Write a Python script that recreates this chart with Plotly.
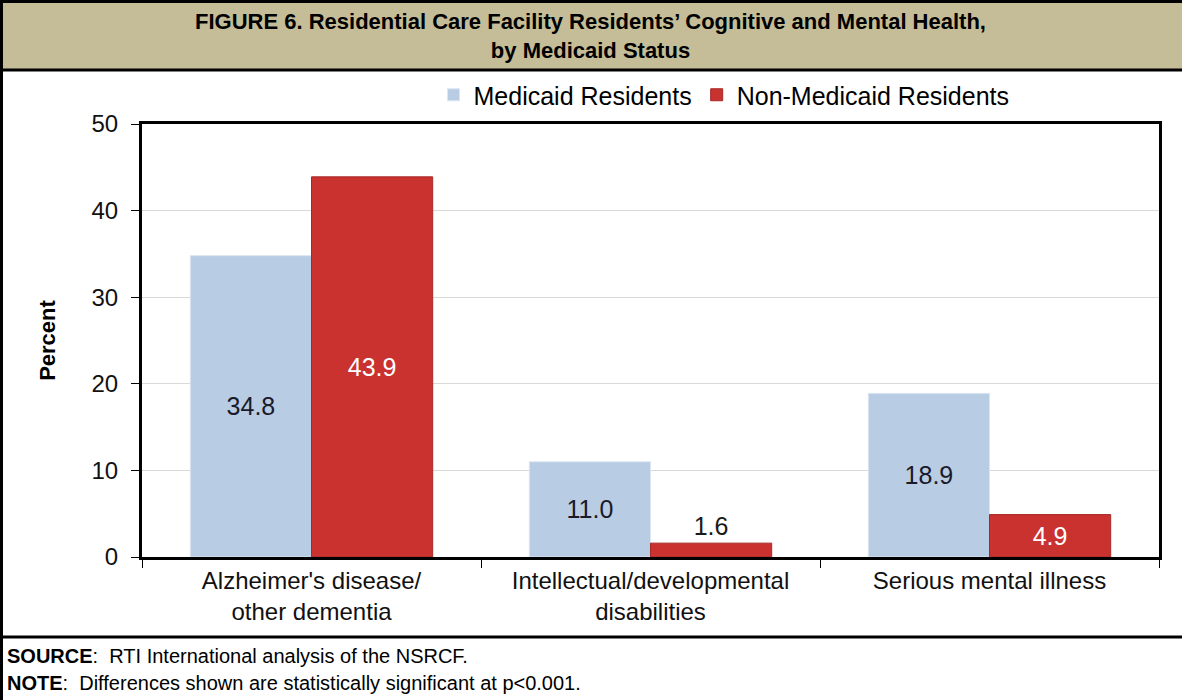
import plotly.graph_objects as go

categories = ["Alzheimer's disease/<br>other dementia",
              "Intellectual/developmental<br>disabilities",
              "Serious mental illness"]
medicaid = [34.8, 11.0, 18.9]
non_medicaid = [43.9, 1.6, 4.9]
series_names = ["Medicaid Residents", "Non-Medicaid Residents"]
y_ticks = [0, 10, 20, 30, 40, 50]

W, H = 1182, 700
L, R, T, B = 142, 1159, 124, 557

def px(x):
    return (x - L) / (R - L)

def py(y):
    return (B - y) / (B - T)

FONT = "Liberation Sans, Arial, sans-serif"

fig = go.Figure()
fig.add_trace(go.Bar(
    x=categories, y=medicaid, name=series_names[0],
    marker=dict(color="#B8CCE4", line=dict(color="#DCE6F2", width=1)),
    text=[f"{v:.1f}" for v in medicaid], textposition="inside",
    insidetextanchor="middle", textangle=0,
    textfont=dict(color="#1A1A2A", size=25, family=FONT),
))
fig.add_trace(go.Bar(
    x=categories, y=non_medicaid, name=series_names[1],
    marker=dict(color="#C9322F", line=dict(color="#A52A27", width=1)),
    text=[f"{v:.1f}" for v in non_medicaid],
    textposition=["inside", "outside", "inside"],
    insidetextanchor="middle", textangle=0,
    textfont=dict(color=["white", "#1A1A1A", "white"], size=25, family=FONT),
    cliponaxis=False,
))

shapes = [
    dict(type="rect", xref="paper", yref="paper", x0=px(0), x1=px(W),
         y0=py(70), y1=py(0), fillcolor="#C4BD97", line=dict(width=0), layer="below"),
    dict(type="line", xref="paper", yref="paper", x0=px(0), x1=px(W),
         y0=py(1.5), y1=py(1.5), line=dict(color="black", width=3)),
    dict(type="line", xref="paper", yref="paper", x0=px(0), x1=px(W),
         y0=py(70), y1=py(70), line=dict(color="black", width=3)),
    dict(type="line", xref="paper", yref="paper", x0=px(0), x1=px(W),
         y0=py(637), y1=py(637), line=dict(color="black", width=3)),
    dict(type="line", xref="paper", yref="paper", x0=px(1.5), x1=px(1.5),
         y0=py(0), y1=py(H), line=dict(color="black", width=3)),
]

annotations = [
    dict(text="<b>FIGURE 6. Residential Care Facility Residents’ Cognitive and Mental Health,<br>by Medicaid Status</b>",
         xref="paper", yref="paper", x=px(590), y=py(36), xanchor="center", yanchor="middle",
         showarrow=False, font=dict(size=22, family=FONT, color="black"), align="center"),
    dict(text="<b>SOURCE</b>:  RTI International analysis of the NSRCF.",
         xref="paper", yref="paper", x=px(5), y=py(656), xanchor="left", yanchor="middle",
         showarrow=False, font=dict(size=20, family=FONT, color="black")),
    dict(text="<b>NOTE</b>:  Differences shown are statistically significant at p<0.001.",
         xref="paper", yref="paper", x=px(5), y=py(683), xanchor="left", yanchor="middle",
         showarrow=False, font=dict(size=20, family=FONT, color="black")),
]

fig.update_layout(
    width=W, height=H,
    margin=dict(l=L, r=W - R, t=T, b=H - B),
    paper_bgcolor="white", plot_bgcolor="white",
    barmode="group", bargap=0.285, bargroupgap=0,
    font=dict(family=FONT, size=20, color="black"),
    legend=dict(orientation="h", x=px(724), y=py(95), xanchor="center", yanchor="middle",
                font=dict(size=25, family=FONT, color="black"),
                itemwidth=30, tracegroupgap=0),
    shapes=shapes, annotations=annotations,
    showlegend=True,
)
fig.update_xaxes(
    showline=True, linecolor="black", linewidth=3, mirror=True,
    ticks="outside", tickson="boundaries", ticklen=8, tickcolor="black", tickwidth=1,
    tickfont=dict(size=24, family=FONT, color="#111111"),
)
fig.update_yaxes(
    range=[0, 50], tickvals=y_ticks,
    showline=True, linecolor="black", linewidth=3, mirror=True,
    ticks="outside", ticklen=8, tickcolor="black", tickwidth=1,
    ticklabelstandoff=8,
    showgrid=True, gridcolor="#D9D9D9", gridwidth=1,
    tickfont=dict(size=24, family=FONT, color="#111111"),
    title=dict(text="<b>Percent</b>", font=dict(size=22, family=FONT, color="black"), standoff=30),
    zeroline=False,
)

fig.write_html("out.html", config={"displayModeBar": False},
               post_script="document.documentElement.style.margin='0';document.documentElement.style.overflow='hidden';document.body.style.margin='0';document.body.style.padding='0';document.body.style.overflow='hidden';")
